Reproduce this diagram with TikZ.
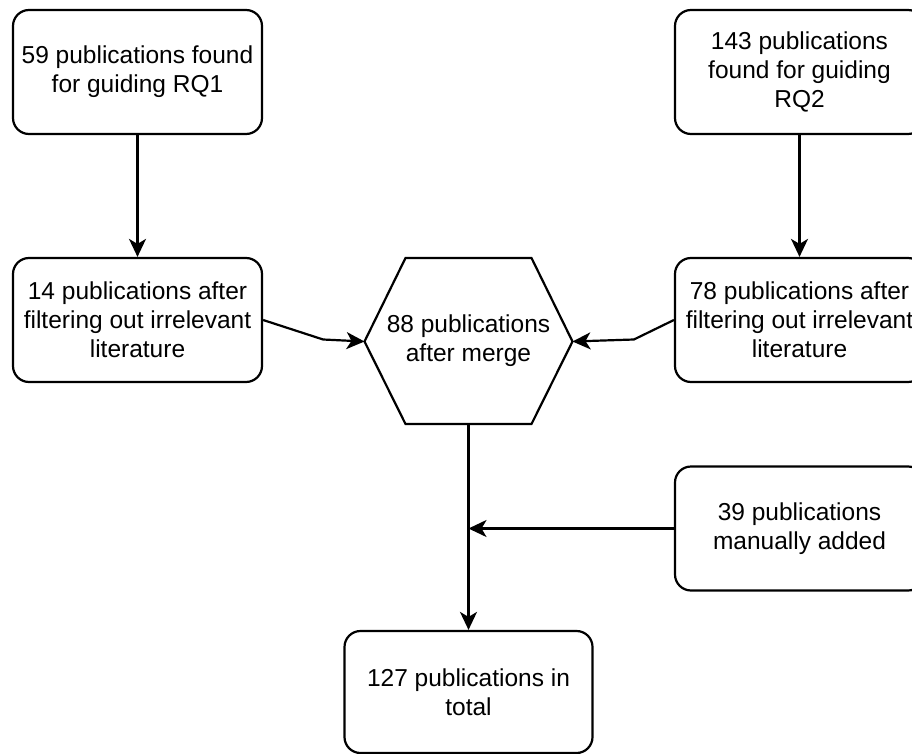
\documentclass[tikz,border=0pt]{standalone}
\usepackage{fontspec}
\setmainfont{Liberation Sans}
\usetikzlibrary{arrows.meta}

\tikzset{
  pubbox/.style={draw, line width=2.2pt, rounded corners=16pt, align=center,
    minimum width=249pt, minimum height=124pt, inner sep=0pt,
    font=\fontsize{24.5}{29}\selectfont},
  mergetext/.style={align=center, inner sep=0pt,
    font=\fontsize{24.5}{29}\selectfont},
  flow/.style={line width=2.2pt, -{Stealth[length=18pt,width=17pt,inset=5pt]}},
}

\begin{document}
\begin{tikzpicture}[x=1pt,y=-1pt]
  % Page frame
  \clip (0,0) rectangle (912,754);
  %
  % Search results
  \node[pubbox] (rq1) at (137.5,72) {59 publications found\\for guiding RQ1};
  \node[pubbox] (rq2) at (799.5,72) {143 publications\\found for guiding\\RQ2};
  %
  % After filtering
  \node[pubbox] (filt1) at (137.5,320) {14 publications after\\filtering out irrelevant\\literature};
  \node[pubbox] (filt2) at (799.5,320) {78 publications after\\filtering out irrelevant\\literature};
  %
  % Merge (hexagon)
  \node[mergetext] (merge) at (468.5,341) {88 publications\\after merge};
  \draw[line width=2.2pt] (405.5,258) -- (531.5,258) -- (572.5,341.5)
    -- (531.5,424) -- (405.5,424) -- (364.5,341.5) -- cycle;
  \coordinate (mergeW) at (364.5,341.5);
  \coordinate (mergeE) at (572.5,341.5);
  \coordinate (mergeS) at (468.5,424);
  %
  % Manual additions and total
  \node[pubbox] (manual) at (799.5,528.5) {39 publications\\manually added};
  \node[pubbox, minimum width=248pt, minimum height=122pt] (total) at (468.5,692)
    {127 publications in\\total};
  \coordinate (join) at (468.5,528.5);
  %
  % Connectors
  \draw[flow] (rq1) -- (filt1);
  \draw[flow] (rq2) -- (filt2);
  \draw[flow] (filt1.east) -- ++(60,19.5) -- (mergeW);
  \draw[flow] (filt2.west) -- ++(-40,19.5) -- (mergeE);
  \draw[flow] (mergeS) -- (total);
  \draw[flow] (manual) -- (join);
  %
\end{tikzpicture}
\end{document}
